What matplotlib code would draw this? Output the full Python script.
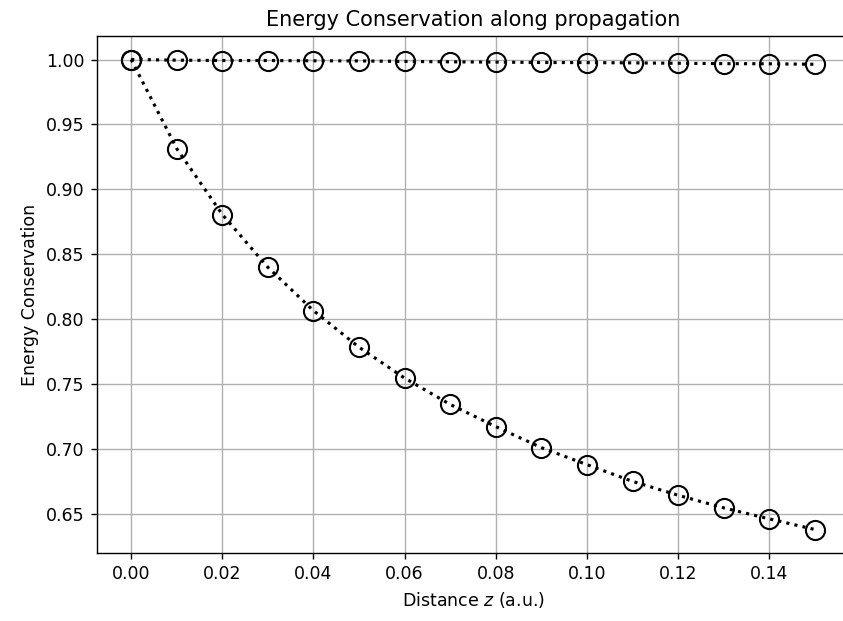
import matplotlib
matplotlib.use('Agg')
import matplotlib.pyplot as plt

# propagation distance (a.u.)
z = [0.00, 0.01, 0.02, 0.03, 0.04, 0.05, 0.06, 0.07,
     0.08, 0.09, 0.10, 0.11, 0.12, 0.13, 0.14, 0.15]

# energy ratio, nearly conserved scheme
energy_good = [1.0000, 0.9995, 0.9992, 0.9992, 0.9990, 0.9989, 0.9985, 0.9982,
               0.9980, 0.9977, 0.9976, 0.9974, 0.9971, 0.9968, 0.9967, 0.9963]

# energy ratio, lossy scheme
energy_lossy = [1.0000, 0.9313, 0.8805, 0.8398, 0.8064, 0.7782, 0.7544, 0.7341,
                0.7170, 0.7008, 0.6877, 0.6748, 0.6641, 0.6544, 0.6459, 0.6377]

dpi = 125
fig = plt.figure(figsize=(843 / dpi, 621 / dpi), dpi=dpi)
# the right edge of the axes sits just outside the figure, as in the reference
ax = fig.add_axes([97 / 843, 68 / 621, 752 / 843, 517 / 621])

style = dict(color='k', linestyle=':', linewidth=1.8, marker='o',
             markersize=11, markerfacecolor='none', markeredgewidth=1.2)
ax.plot(z, energy_good, **style)
ax.plot(z, energy_lossy, **style)

ax.set_title('Energy Conservation along propagation', fontsize=12)
ax.set_xlabel('Distance $z$ (a.u.)')
ax.set_ylabel('Energy Conservation')
ax.grid(True)

fig.savefig('out.png', dpi=dpi)
